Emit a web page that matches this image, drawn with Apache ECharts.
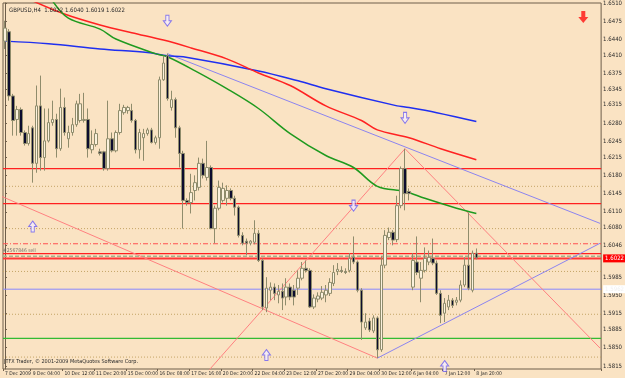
<!DOCTYPE html>
<html>
<head>
<meta charset="utf-8">
<script src="https://cdn.jsdelivr.net/npm/echarts@6/dist/echarts.min.js"></script>
<style>
  html, body { margin: 0; padding: 0; background: #fae3c3; }
  #chart { width: 625px; height: 378px; }
</style>
</head>
<body>
<div id="chart"></div>
<script>
// GBPUSD H4 bars, one per category slot
const opens = [1.6437,1.6455,1.6332,1.6287,1.6306,1.6262,1.6241,1.6271,1.6203,1.6313,
  1.6214,1.6246,1.6281,1.6287,1.6231,1.6310,1.6250,1.6262,1.6277,1.6285,
  1.6285,1.6287,1.6229,1.6239,1.6225,1.6225,1.6193,1.6250,1.6227,1.6262,
  1.6300,1.6304,1.6304,1.6285,1.6229,1.6252,1.6260,1.6267,1.6243,1.6252,
  1.6363,1.6409,1.6310,1.6325,1.6271,1.6222,1.6132,1.6128,1.6151,1.6157,
  1.6203,1.6176,1.6195,1.6078,1.6117,1.6132,1.6136,1.6151,1.6136,1.6119,
  1.6065,1.6054,1.6050,1.6052,1.6069,1.6017,1.5926,1.5960,1.5966,1.5951,
  1.5958,1.5947,1.5966,1.5960,1.5964,1.5983,1.6002,1.5998,1.5928,1.5943,
  1.5945,1.5951,1.5954,1.5973,1.5996,1.5998,1.5996,1.5998,1.6023,1.6014,
  1.5960,1.5888,1.5901,1.5882,1.5907,1.5846,1.6008,1.6061,1.6071,1.6057,
  1.6122,1.6193,1.6149,1.5966,1.6014,1.5983,1.5998,1.6014,1.6021,1.6012,
  1.5954,1.5916,1.5928,1.5941,1.5937,1.5941,1.5970,1.6008,1.5960,1.6031];
const closes = [1.6462,1.6332,1.6285,1.6306,1.6262,1.6241,1.6260,1.6203,1.6313,1.6214,
  1.6246,1.6281,1.6287,1.6231,1.6310,1.6262,1.6262,1.6277,1.6317,1.6317,
  1.6287,1.6231,1.6239,1.6260,1.6222,1.6193,1.6250,1.6227,1.6262,1.6304,
  1.6310,1.6310,1.6285,1.6229,1.6262,1.6260,1.6267,1.6243,1.6252,1.6363,
  1.6395,1.6327,1.6325,1.6271,1.6222,1.6132,1.6128,1.6147,1.6166,1.6203,
  1.6180,1.6195,1.6078,1.6117,1.6157,1.6155,1.6151,1.6136,1.6119,1.6065,
  1.6050,1.6050,1.6054,1.6069,1.6017,1.5928,1.5964,1.5966,1.5954,1.5958,
  1.5945,1.5966,1.5947,1.5947,1.5983,1.6002,1.5998,1.5928,1.5945,1.5949,
  1.5956,1.5960,1.5975,1.5994,1.6000,1.5996,1.5994,1.6021,1.6014,1.5960,
  1.5899,1.5899,1.5884,1.5907,1.5846,1.6008,1.6065,1.6071,1.6056,1.6122,
  1.6193,1.6145,1.6145,1.6017,1.5994,1.5998,1.6021,1.6023,1.6012,1.5954,
  1.5912,1.5935,1.5941,1.5931,1.5941,1.5970,1.6008,1.5964,1.6031,1.6022];
const lows = [1.6422,1.6323,1.6256,1.6256,1.6256,1.6237,1.6237,1.6166,1.6185,1.6189,
  1.6189,1.6243,1.6275,1.6214,1.6227,1.6256,1.6233,1.6256,1.6273,1.6281,
  1.6281,1.6214,1.6222,1.6235,1.6218,1.6189,1.6189,1.6224,1.6224,1.6258,
  1.6296,1.6298,1.6281,1.6222,1.6212,1.6208,1.6256,1.6241,1.6239,1.6231,
  1.6361,1.6323,1.6304,1.6252,1.6195,1.6078,1.6122,1.6107,1.6132,1.6151,
  1.6174,1.6170,1.6077,1.6050,1.6113,1.6128,1.6122,1.6132,1.6103,1.6061,
  1.6046,1.6027,1.6046,1.6048,1.6014,1.5922,1.5918,1.5941,1.5941,1.5935,
  1.5922,1.5931,1.5941,1.5931,1.5951,1.5979,1.5994,1.5926,1.5924,1.5937,
  1.5941,1.5937,1.5949,1.5968,1.5989,1.5993,1.5991,1.5994,1.6010,1.5956,
  1.5865,1.5884,1.5880,1.5878,1.5830,1.5842,1.6002,1.6056,1.6046,1.6052,
  1.6117,1.6113,1.6132,1.5960,1.5989,1.5937,1.5994,1.6008,1.6008,1.5951,
  1.5897,1.5899,1.5922,1.5926,1.5931,1.5937,1.5966,1.5960,1.5956,1.6019];
const highs = [1.6476,1.6460,1.6336,1.6313,1.6310,1.6266,1.6275,1.6275,1.6352,1.6371,
  1.6308,1.6308,1.6323,1.6298,1.6346,1.6329,1.6275,1.6290,1.6323,1.6336,
  1.6338,1.6308,1.6266,1.6269,1.6231,1.6227,1.6323,1.6262,1.6266,1.6317,
  1.6315,1.6313,1.6317,1.6288,1.6269,1.6269,1.6271,1.6271,1.6256,1.6369,
  1.6409,1.6413,1.6342,1.6329,1.6275,1.6227,1.6136,1.6183,1.6180,1.6214,
  1.6212,1.6246,1.6199,1.6122,1.6170,1.6166,1.6161,1.6155,1.6141,1.6122,
  1.6071,1.6059,1.6056,1.6094,1.6075,1.6021,1.5985,1.5975,1.5973,1.5970,
  1.5973,1.5983,1.5973,1.5970,1.5998,1.6014,1.6017,1.6002,1.5952,1.5956,
  1.5968,1.5970,1.5983,1.6008,1.6012,1.6006,1.6002,1.6031,1.6063,1.6017,
  1.5964,1.5916,1.5907,1.5912,1.5910,1.6025,1.6075,1.6080,1.6075,1.6141,
  1.6197,1.6231,1.6155,1.6031,1.6063,1.6014,1.6042,1.6036,1.6059,1.6017,
  1.5960,1.5945,1.5951,1.5945,1.5947,1.5979,1.6023,1.6109,1.6036,1.6040];

const slotCount = 151; // bars + right shift space
const timeLabelIdx = [0, 7, 15, 23, 31, 39, 47, 55, 63, 71, 79, 87, 95, 103, 111, 119];
const timeLabels = ['7 Dec 2009', '9 Dec 04:00', '10 Dec 12:00', '11 Dec 20:00', '15 Dec 00:00',
  '16 Dec 08:00', '17 Dec 16:00', '20 Dec 20:00', '22 Dec 04:00', '23 Dec 12:00', '27 Dec 20:00',
  '29 Dec 04:00', '30 Dec 12:00', '6 Jan 04:00', '7 Jan 12:00', '8 Jan 20:00'];
const priceTicks = [1.6510, 1.6475, 1.6440, 1.6410, 1.6375, 1.6345, 1.6315, 1.6280, 1.6245, 1.6215,
  1.6180, 1.6145, 1.6110, 1.6080, 1.6046, 1.5985, 1.5950, 1.5915, 1.5885, 1.5850, 1.5815];

// moving averages, sampled [bar, price]
const maBlue = [[0,1.6437],[11,1.6432],[24,1.6422],[36,1.6415],[41,1.6409],[45,1.6407],[64,1.6380],
  [74,1.6361],[81,1.6346],[99,1.6313],[101,1.6311],[109,1.6300],[119,1.6283]];
const maRed = [[7,1.6514],[15,1.6489],[24,1.6468],[32,1.6453],[40,1.6439],[47,1.6424],[56,1.6403],
  [64,1.6376],[72,1.6352],[81,1.6313],[90,1.6285],[94,1.6267],[102,1.6252],[110,1.6231],[119,1.6210]];
const maGreen = [[12,1.6514],[16,1.6481],[24,1.6460],[28,1.6441],[38,1.6413],[41,1.6407],[48,1.6380],
  [56,1.6346],[64,1.6308],[72,1.6260],[81,1.6218],[88,1.6195],[94,1.6159],[101,1.6149],[106,1.6136],
  [114,1.6117],[119,1.6107]];

// drawn objects
const trendViolet = [[[41, 1.6413], [150.25, 1.6088]], [[94, 1.5830], [150.25, 1.6050]]];
const trendPink = [[[-1.25, 1.6141], [94, 1.5830]], [[51.5, 1.5807], [101, 1.6231]], [[101, 1.6231], [150.25, 1.5849]]];
const redLevels = [1.6193, 1.6126, 1.6030];
const bidLevel = 1.6021;
const bidText = '1.6022';
const dashDotLevel = 1.6049;
const dashedLevel = 1.6025;
const orderText = '#2567846 sell';
const blueLevel = 1.5962;
const greenLevel = 1.5868;
const dottedLevels = [1.6159, 1.6078, 1.5996, 1.5914, 1.5832];
const arrowsDown = [[41, 1.6476], [101, 1.6290], [88, 1.6122]];
const arrowsUp = [[7, 1.6082], [66, 1.5836], [111, 1.5815]];
const signalDown = [[146, 1.6483]];

const categories = [];
for (let i = 0; i < slotCount; i++) {
  const k = timeLabelIdx.indexOf(i);
  categories.push(k >= 0 ? timeLabels[k] : '');
}
const candles = opens.map((o, i) => [o, closes[i], lows[i], highs[i]]);

const font = '"Liberation Sans Narrow", "DejaVu Sans Condensed", sans-serif';
const arrowDownPath = 'path://M3,0 H7 V6 H10 L5,12 L0,6 H3 Z';
const arrowUpPath = 'path://M5,0 L10,6 H7 V12 H3 V6 H0 Z';
const xLeft = -0.5, xRight = slotCount - 0.5;

function level(value, color, width, type, tag) {
  const s = {
    type: 'line', xAxisIndex: 1, data: [[xLeft, value], [xRight, value]], symbol: 'none', silent: true, z: 1,
    lineStyle: { color: color, width: width, type: type }
  };
  if (tag) {
    s.endLabel = {
      show: true, distance: 2, formatter: tag.text,
      backgroundColor: tag.bg, color: tag.fg, fontSize: 6, fontFamily: font, padding: [1, 2]
    };
  }
  return s;
}
function segment(pts, color) {
  return {
    type: 'line', xAxisIndex: 1, data: pts, symbol: 'none', silent: true, z: 1,
    lineStyle: { color: color, width: 1 }
  };
}
function ma(pts, color) {
  return {
    type: 'line', xAxisIndex: 1, data: pts, symbol: 'none', smooth: 0.35, silent: true, z: 2,
    lineStyle: { color: color, width: 1.5 }
  };
}

const series = [];
dottedLevels.forEach(v => series.push(level(v, '#c4a466', 1, [1, 2])));
redLevels.forEach(v => series.push(level(v, '#ff2020', 1.3, 'solid')));
series.push(level(dashDotLevel, '#ff5050', 1, [5, 2, 1, 2]));
series.push(level(dashedLevel, '#a6b28a', 1.5, [4, 2]));
series.push(level(greenLevel, '#33bb33', 1.2, 'solid'));
series.push(level(blueLevel, '#8888ff', 1, 'solid', { text: blueLevel.toFixed(4), bg: '#ffffff', fg: '#f0f0f0' }));
series.push(level(bidLevel, '#ff3838', 2, 'solid', { text: bidText, bg: '#ff0000', fg: '#ffffff' }));
trendViolet.forEach(p => series.push(segment(p, '#8c84f0')));
trendPink.forEach(p => series.push(segment(p, '#ff8080')));
series.push(ma(maBlue, '#1f2ff0'), ma(maRed, '#ff2222'), ma(maGreen, '#1f9a1f'));
series.push({
  type: 'candlestick', data: candles, barWidth: 3, z: 5,
  itemStyle: { color: '#fbf1dc', color0: '#0c0c2e', borderColor: '#8f8c6c', borderColor0: '#8f8c6c', borderWidth: 1 }
});
series.push({
  type: 'scatter', xAxisIndex: 1, data: arrowsDown, symbol: arrowDownPath, symbolSize: [8, 11], z: 6,
  itemStyle: { color: '#f6eefa', borderColor: '#6a5cf0', borderWidth: 1 }
});
series.push({
  type: 'scatter', xAxisIndex: 1, data: arrowsUp, symbol: arrowUpPath, symbolSize: [8, 11], z: 6,
  itemStyle: { color: '#f6eefa', borderColor: '#6a5cf0', borderWidth: 1 }
});
series.push({
  type: 'scatter', xAxisIndex: 1, data: signalDown, symbol: arrowDownPath, symbolSize: [10, 12], z: 6,
  itemStyle: { color: '#ff1010' }
});
// order tag sitting just below the dash-dot level, at the left edge
series.push({
  type: 'scatter', xAxisIndex: 1, data: [[0, dashDotLevel]], symbolSize: 0, silent: true, z: 6,
  label: { show: true, position: 'right', distance: 0, offset: [-2, 7], formatter: orderText, fontSize: 5, color: '#555555', fontFamily: font }
});

const chart = echarts.init(document.getElementById('chart'));
chart.setOption({
  animation: false,
  backgroundColor: '#fae3c3',
  title: {
    text: 'GBPUSD,H4  1.6022 1.6040 1.6019 1.6022', left: 4, top: 2,
    textStyle: { fontSize: 6, fontWeight: 'normal', color: '#2a2a2a', fontFamily: font }
  },
  graphic: [{
    type: 'text', left: 4, top: 359,
    style: { text: 'JTFX Trader, \u00a9 2001-2009 MetaQuotes Software Corp.', fontSize: 5.5, fill: '#2a2a2a', fontFamily: font }
  }],
  grid: { left: 3, right: 19, top: 2, bottom: 9, show: true, borderColor: '#6e5e4a', borderWidth: 1, backgroundColor: 'transparent' },
  xAxis: [{
    type: 'category', data: categories, boundaryGap: true,
    axisLine: { show: false },
    axisTick: { show: true, length: 2, interval: (i) => timeLabelIdx.indexOf(i) >= 0, lineStyle: { color: '#6e5e4a' } },
    axisLabel: { interval: 0, align: 'left', margin: 2, fontSize: 5, color: '#2a2a2a', fontFamily: font },
    splitLine: { show: false }
  }, {
    type: 'value', min: xLeft, max: xRight, show: false
  }],
  yAxis: {
    type: 'value', position: 'right', min: 1.58092, max: 1.6510,
    axisLine: { show: true, lineStyle: { color: '#6e5e4a' } },
    axisTick: { show: true, length: 2, customValues: priceTicks, lineStyle: { color: '#6e5e4a' } },
    axisLabel: { customValues: priceTicks, formatter: v => v.toFixed(4), fontSize: 6, margin: 2, color: '#2a2a2a', fontFamily: font },
    splitLine: { show: false }
  },
  series: series
});
</script>
</body>
</html>
